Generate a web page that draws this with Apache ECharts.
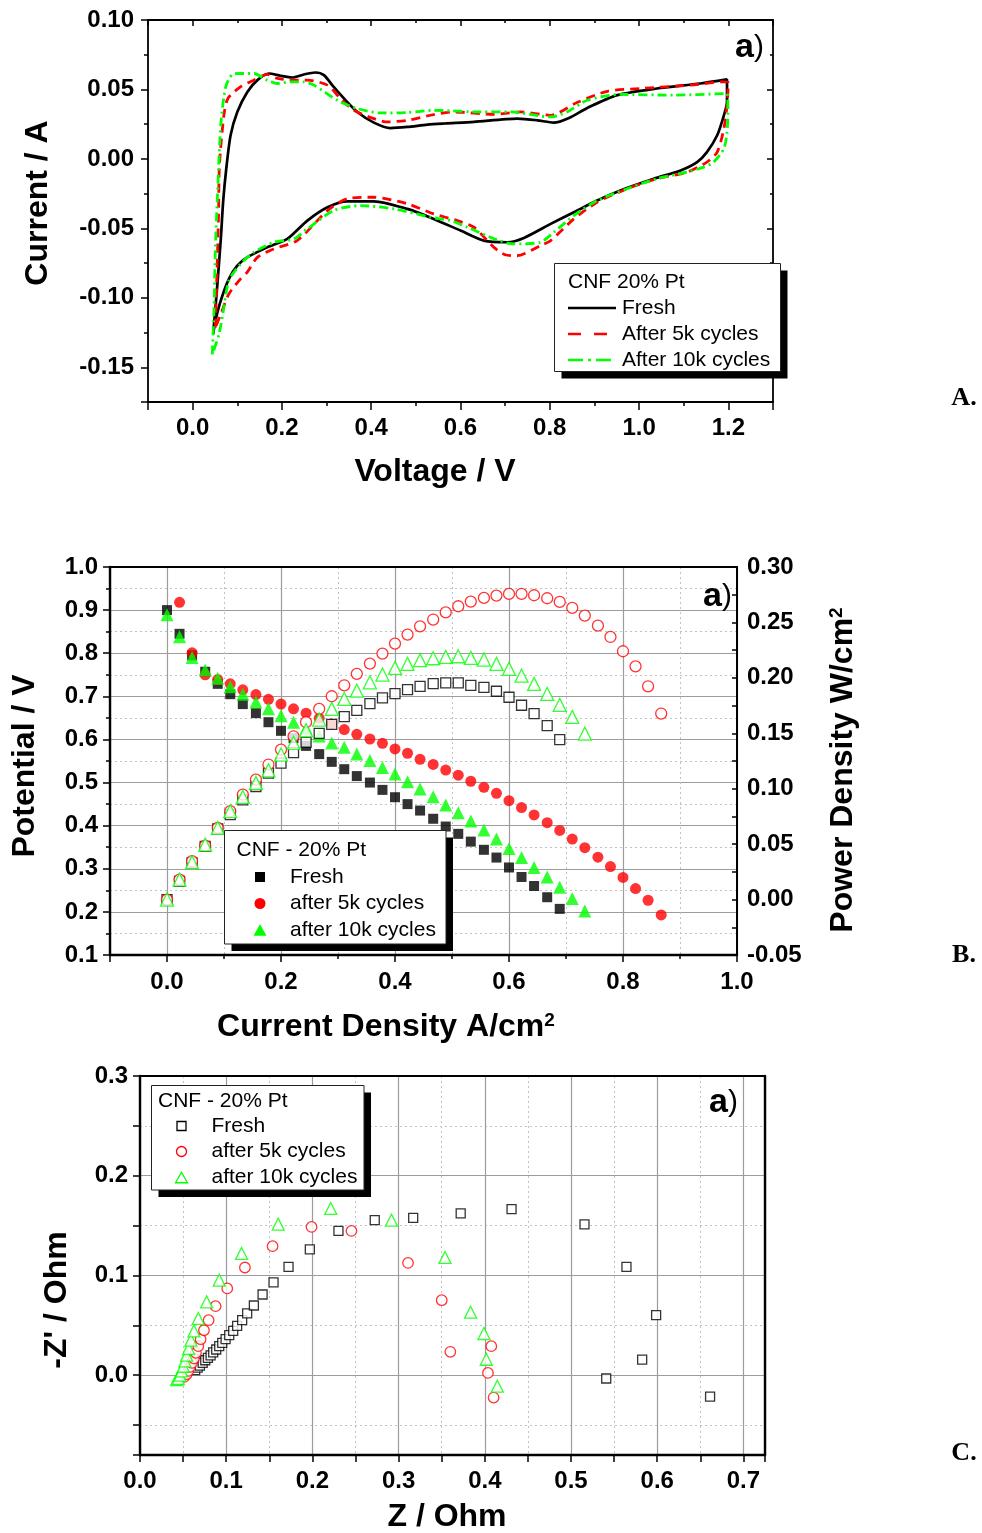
<!DOCTYPE html>
<html>
<head>
<meta charset="utf-8">
<title>CNF 20% Pt durability</title>
<script src="https://cdn.jsdelivr.net/npm/echarts@6/dist/echarts.min.js"></script>
<style>
  html, body { margin: 0; padding: 0; background: #fff; }
  #chart { width: 982px; height: 1533px; }
</style>
</head>
<body>
<div id="chart"></div>
<script>
// ---------- Panel A: cyclic voltammetry (voltage V, current A), anodic then cathodic sweep ----------
const cvFreshV = [0.046,0.055,0.063,0.0685,0.075,0.085,0.100,0.1225,0.145,0.171,0.197,0.223,0.249,0.275,0.294,0.316,0.339,0.369,0.406,0.443,0.481,0.526,0.565,0.630,0.727,0.772,0.809,0.843,0.884,0.951,1.040,1.137,1.197,
  1.197,1.190,1.175,1.152,1.130,1.093,1.033,0.958,0.906,0.854,0.802,0.742,0.705,0.652,0.600,0.540,0.481,0.406,0.346,0.302,0.257,0.212,0.167,0.122,0.100,0.081,0.063,0.051,0.046];
const cvFreshI = [-0.126,-0.092,-0.058,-0.030,-0.008,0.017,0.0338,0.0482,0.0567,0.0615,0.0598,0.0586,0.0608,0.0622,0.0603,0.0518,0.0435,0.0338,0.0261,0.0222,0.0230,0.0247,0.0255,0.0266,0.0290,0.0278,0.0261,0.0295,0.0367,0.0459,0.0507,0.0543,0.0572,
  0.0410,0.0314,0.0170,0.0049,-0.0023,-0.0083,-0.0143,-0.0227,-0.0300,-0.0384,-0.0468,-0.0569,-0.0600,-0.0588,-0.0516,-0.0432,-0.0360,-0.0305,-0.0305,-0.0348,-0.0444,-0.0576,-0.0637,-0.0709,-0.0769,-0.0865,-0.1020,-0.1166,-0.126];

const cv5kV = [0.051,0.054,0.058,0.060,0.070,0.079,0.107,0.137,0.167,0.190,0.227,0.257,0.302,0.331,0.361,0.406,0.436,0.481,0.540,0.585,0.675,0.734,0.802,0.861,0.929,1.003,1.115,1.190,1.200,
  1.197,1.190,1.175,1.152,1.108,1.040,0.973,0.906,0.854,0.802,0.779,0.727,0.700,0.675,0.630,0.593,0.540,0.481,0.406,0.346,0.302,0.234,0.182,0.145,0.122,0.107,0.081,0.063,0.051];
const cv5kI = [-0.1214,-0.0877,-0.040,-0.0047,0.0314,0.0435,0.0518,0.0567,0.0608,0.0579,0.0567,0.0567,0.0531,0.0435,0.035,0.029,0.0266,0.0278,0.0319,0.0338,0.0321,0.0338,0.0314,0.0406,0.0487,0.0507,0.0531,0.0555,0.0550,
  0.0386,0.0218,0.0049,-0.0023,-0.0095,-0.0143,-0.0215,-0.0312,-0.0432,-0.0588,-0.0625,-0.0697,-0.0690,-0.0637,-0.0492,-0.0444,-0.0396,-0.0323,-0.0276,-0.0287,-0.0372,-0.0588,-0.0648,-0.0709,-0.0817,-0.0865,-0.0973,-0.1118,-0.1214];

const cv10kV = [0.044,0.048,0.051,0.055,0.063,0.074,0.089,0.107,0.137,0.167,0.190,0.219,0.249,0.272,0.324,0.369,0.421,0.481,0.540,0.645,0.712,0.802,0.839,0.884,0.958,1.078,1.197,
  1.199,1.197,1.190,1.167,1.145,1.108,1.040,0.973,0.906,0.854,0.809,0.779,0.719,0.682,0.615,0.578,0.533,0.451,0.376,0.316,0.257,0.227,0.182,0.137,0.107,0.081,0.070,0.059,0.044];
const cv10kI = [-0.1407,-0.107,-0.0637,-0.0312,0.0242,0.0518,0.0608,0.0615,0.0615,0.0567,0.0543,0.0555,0.0555,0.0531,0.0422,0.0362,0.0331,0.0334,0.035,0.0338,0.0338,0.0302,0.0338,0.0422,0.0464,0.0459,0.0471,
  0.0338,0.0194,0.0074,-0.0023,-0.0059,-0.0095,-0.0143,-0.0215,-0.030,-0.0408,-0.0528,-0.060,-0.0612,-0.0583,-0.0492,-0.0444,-0.042,-0.036,-0.0336,-0.0372,-0.0504,-0.0576,-0.060,-0.0673,-0.0757,-0.0877,-0.107,-0.1262,-0.1407];

// ---------- Panel B: polarization (potential V) and power density (W/cm2) vs current density ----------
const currentDensity = [0.000,0.022,0.044,0.067,0.089,0.111,0.133,0.156,0.178,0.200,0.222,0.244,0.267,0.289,0.311,0.333,0.356,0.378,0.400,0.422,
  0.444,0.467,0.489,0.511,0.533,0.556,0.578,0.600,0.622,0.644,0.667,0.689,0.711,0.733,0.756,0.778,0.800,0.822,0.844,0.867];
const potFresh = [0.900,0.845,0.795,0.757,0.729,0.705,0.682,0.661,0.640,0.620,0.603,0.585,0.566,0.548,0.531,0.515,0.500,0.483,0.466,0.450,
  0.435,0.416,0.398,0.381,0.363,0.344,0.326,0.303,0.281,0.260,0.234,0.207];
const powFresh = [0.000,0.0165,0.0331,0.048,0.0638,0.0767,0.090,0.102,0.114,0.123,0.1326,0.1419,0.150,0.158,0.165,0.1707,0.1768,0.182,0.1858,0.1894,
  0.1924,0.1948,0.1955,0.1955,0.1933,0.1915,0.1879,0.1825,0.1753,0.1678,0.157,0.1443];
const pot5k = [null,0.918,0.801,0.750,0.739,0.729,0.715,0.704,0.693,0.682,0.671,0.661,0.649,0.636,0.623,0.612,0.601,0.591,0.578,0.568,
  0.554,0.542,0.529,0.517,0.503,0.489,0.475,0.458,0.442,0.425,0.407,0.389,0.369,0.349,0.327,0.305,0.280,0.254,0.227,0.193];
const pow5k = [0.000,0.018,0.0346,0.0487,0.0647,0.0797,0.0947,0.1082,0.1218,0.1353,0.1473,0.160,0.172,0.1834,0.1933,0.2036,0.2129,0.2219,0.2309,0.239,
  0.2465,0.2526,0.2591,0.2646,0.2688,0.2721,0.2742,0.2757,0.2757,0.2745,0.2718,0.2685,0.2631,0.2562,0.2471,0.2369,0.224,0.2104,0.1924,0.1678];
const pot10k = [0.889,0.838,0.790,0.761,0.742,0.722,0.705,0.687,0.671,0.655,0.640,0.626,0.608,0.592,0.582,0.566,0.551,0.535,0.520,0.502,
  0.485,0.467,0.448,0.430,0.411,0.390,0.369,0.347,0.326,0.303,0.281,0.257,0.231,0.202];
const pow10k = [0.000,0.018,0.0337,0.0496,0.0647,0.0797,0.0926,0.1053,0.1166,0.1308,0.1413,0.1527,0.1624,0.172,0.181,0.1885,0.196,0.203,0.209,0.2126,
  0.216,0.2177,0.2189,0.2195,0.218,0.2165,0.2126,0.2081,0.202,0.1946,0.1855,0.1756,0.1648,0.1497];

// ---------- Panel C: Nyquist plot (Z real, -Z'' imaginary, Ohm) ----------
const nyqFreshRe = [0.064,0.0669,0.0695,0.0727,0.0757,0.0788,0.0819,0.0849,0.0884,0.0919,0.0954,0.0993,0.1035,0.1081,0.1127,0.1185,0.1243,0.1321,0.1422,0.1549,
  0.1723,0.197,0.2302,0.2723,0.3169,0.372,0.431,0.5156,0.5643,0.5987,0.5825,0.5408,0.6613];
const nyqFreshIm = [0.005,0.0077,0.0097,0.0123,0.015,0.0174,0.0198,0.0228,0.0258,0.0291,0.0324,0.0361,0.0401,0.0444,0.0494,0.0552,0.0619,0.0699,0.0809,0.093,
  0.1086,0.1261,0.1447,0.1555,0.1578,0.1622,0.1665,0.1512,0.1086,0.0602,0.0157,-0.0033,-0.0214];
const nyq5kRe = [0.0513,0.0541,0.056,0.0579,0.0603,0.0626,0.0649,0.0676,0.0703,0.0742,0.0796,0.0877,0.1012,0.1217,0.1538,0.199,0.2453,0.3109,0.35,0.36,0.4075,0.4036,0.4102];
const nyq5kIm = [-0.0017,0.001,0.0043,0.0083,0.0123,0.0168,0.0224,0.0291,0.0361,0.0451,0.0552,0.0692,0.087,0.108,0.1294,0.1487,0.1447,0.1126,0.0752,0.0234,0.0291,0.0023,-0.0224];
const nyq10kRe = [0.0425,0.0444,0.0463,0.0483,0.0502,0.0521,0.0541,0.0564,0.0591,0.0626,0.0676,0.0773,0.0919,0.1178,0.1603,0.2213,0.2917,0.3538,0.3835,0.399,0.4017,0.4145];
const nyq10kIm = [-0.0043,-0.0033,0.0,0.0043,0.009,0.0143,0.0201,0.0268,0.0351,0.0444,0.0569,0.0735,0.0953,0.1221,0.1515,0.1672,0.1555,0.1181,0.0632,0.0418,0.016,-0.011];

// ---------- styling helpers ----------
const FONT = '"Liberation Sans", Arial, Helvetica, sans-serif';
const SERIF = '"Liberation Serif", "Times New Roman", serif';
const BLACK = '#000000', RED = '#ff0000', GREEN = '#00ff00';

const near = (v, s) => Math.abs(v / s - Math.round(v / s)) < 1e-6;
const fix = (v, d) => (Math.abs(v) < 1e-9 ? 0 : v).toFixed(d);
const zip = (xs, ys) => ys.map((y, i) => [xs[i], y]).filter(p => p[1] != null);

function axis(o) {
  return {
    type: 'value',
    gridIndex: o.grid,
    position: o.pos,
    min: o.min,
    max: o.max,
    interval: o.interval,
    minInterval: o.step,
    maxInterval: o.step,
    axisLine: { show: true, onZero: false, lineStyle: { color: BLACK, width: o.lw || 2 } },
    axisTick: { show: o.ticks !== false, inside: !!o.inside, length: o.tickLen || 7, lineStyle: { color: BLACK, width: 1.5 } },
    minorTick: { show: !!o.minor, splitNumber: 2, length: o.minorLen || 4, lineStyle: { color: BLACK, width: 1.5 } },
    axisLabel: o.fmt
      ? { show: true, formatter: o.fmt, margin: o.margin || 12, color: BLACK, fontFamily: FONT, fontWeight: 'bold', fontSize: 24 }
      : { show: false },
    splitLine: { show: !!o.lines, lineStyle: { color: '#9c9c9c', width: 1.2 } },
    minorSplitLine: { show: !!o.lines, lineStyle: { color: '#c2c2c2', width: 1, type: [2, 3] } }
  };
}

const fmtAx = v => (near(v, 0.2) && v > -0.05 && v < 1.25) ? fix(v, 1) : '';
const fmtAy = v => (near(v, 0.05) && v > -0.16) ? fix(v, 2) : '';
const fmtBx = v => (v > -0.05) ? fix(v, 1) : '';
const fmtBy = v => fix(v, 1);
const fmtBr = v => fix(v, 2);
const fmtCx = v => (near(v, 0.1) && v < 0.71) ? fix(v, 1) : '';
const fmtCy = v => near(v, 0.1) ? fix(v, 1) : '';

function cvLine(name, xs, ys, color, type, width) {
  return {
    name, type: 'line', xAxisIndex: 0, yAxisIndex: 0,
    data: zip(xs, ys), symbol: 'none', smooth: 0.25,
    lineStyle: { color, width, type }, silent: true, z: 3
  };
}
function dots(name, xi, yi, data, symbol, size, color, open) {
  return {
    name, type: 'scatter', xAxisIndex: xi, yAxisIndex: yi, data,
    symbol, symbolSize: size, silent: true, z: open ? 4 : 3,
    itemStyle: open
      ? { color: '#ffffff', borderColor: color, borderWidth: 1.3 }
      : { color, borderWidth: 0 }
  };
}

// ---------- text and legend graphics ----------
function txt(x, y, text, font, align, extra) {
  return Object.assign({
    type: 'text', x, y, z: 110, silent: true,
    style: { text, font, fill: BLACK, align: align || 'left', verticalAlign: 'middle', textAlign: align || 'left', textVerticalAlign: 'middle' }
  }, extra || {});
}
function richTitle(x, y, main, sup, rotation) {
  return {
    type: 'text', x, y, rotation: rotation || 0, z: 110, silent: true,
    style: {
      text: '{m|' + main + '}' + (sup ? '{s|' + sup + '}' : ''),
      align: 'center', verticalAlign: 'middle', textAlign: 'center', textVerticalAlign: 'middle', fill: BLACK,
      rich: {
        m: { fontSize: 32, fontWeight: 'bold', fontFamily: FONT, fill: BLACK, color: BLACK },
        s: { fontSize: 19, fontWeight: 'bold', fontFamily: FONT, fill: BLACK, color: BLACK, verticalAlign: 'top' }
      }
    }
  };
}
function panelTag(x, y) {
  return {
    type: 'text', x, y, z: 110, silent: true,
    style: {
      text: '{a|a}{p|)}', align: 'left', verticalAlign: 'middle', textAlign: 'left', textVerticalAlign: 'middle',
      rich: {
        a: { fontSize: 34, fontWeight: 'bold', fontFamily: FONT, fill: BLACK, color: BLACK },
        p: { fontSize: 30, fontWeight: 'normal', fontFamily: FONT, fill: BLACK, color: BLACK }
      }
    }
  };
}
function legendBox(x, y, w, h) {
  return [
    { type: 'rect', z: 100, silent: true, shape: { x: x + 7, y: y + 7, width: w, height: h }, style: { fill: BLACK } },
    { type: 'rect', z: 101, silent: true, shape: { x, y, width: w, height: h }, style: { fill: '#fff', stroke: '#222', lineWidth: 1 } }
  ];
}
const LFONT = '21px ' + FONT;
function seg(x1, x2, y, color, dash) {
  return { type: 'line', z: 105, silent: true, shape: { x1, y1: y, x2, y2: y }, style: { stroke: color, lineWidth: 2.6, lineDash: dash || null } };
}
function sq(cx, cy, s, color, open) {
  return { type: 'rect', z: 105, silent: true, shape: { x: cx - s / 2, y: cy - s / 2, width: s, height: s },
    style: open ? { fill: '#fff', stroke: color, lineWidth: 1.3 } : { fill: color } };
}
function circ(cx, cy, r, color, open) {
  return { type: 'circle', z: 105, silent: true, shape: { cx, cy, r },
    style: open ? { fill: '#fff', stroke: color, lineWidth: 1.3 } : { fill: color } };
}
function tri(cx, cy, w, h, color, open) {
  return { type: 'polygon', z: 105, silent: true, shape: { points: [[cx, cy - h / 2], [cx - w / 2, cy + h / 2], [cx + w / 2, cy + h / 2]] },
    style: open ? { fill: '#fff', stroke: color, lineWidth: 1.3 } : { fill: color } };
}

const graphics = [].concat(
  // panel A legend
  legendBox(554.5, 263.5, 226, 108),
  [
    txt(568, 282, 'CNF 20% Pt', LFONT),
    seg(568, 616, 308, BLACK), txt(622, 308, 'Fresh', LFONT),
    seg(568, 616, 334, RED, [13, 13]), txt(622, 334, 'After 5k cycles', LFONT),
    seg(568, 616, 360, GREEN, [15, 5, 3, 5]), txt(622, 360, 'After 10k cycles', LFONT)
  ],
  // panel B legend
  legendBox(224.5, 830.5, 221.5, 113.5),
  [
    txt(236.5, 850, 'CNF - 20% Pt', LFONT),
    sq(260, 877, 10, BLACK, false), txt(290, 877, 'Fresh', LFONT),
    circ(260, 903.5, 5.5, RED, false), txt(290, 903.5, 'after 5k cycles', LFONT),
    tri(260, 930, 13, 11.5, GREEN, false), txt(290, 930, 'after 10k cycles', LFONT)
  ],
  // panel C legend
  legendBox(151.5, 1085.5, 212.5, 104.5),
  [
    txt(158, 1101, 'CNF - 20% Pt', LFONT),
    sq(181.5, 1126, 9, BLACK, true), txt(211.5, 1126, 'Fresh', LFONT),
    circ(181.5, 1151.5, 5, RED, true), txt(211.5, 1151.5, 'after 5k cycles', LFONT),
    tri(181.5, 1177.5, 12, 10.5, GREEN, true), txt(211.5, 1177.5, 'after 10k cycles', LFONT)
  ],
  // axis titles
  [
    richTitle(38, 203, 'Current / A', null, Math.PI / 2),
    richTitle(435, 472, 'Voltage / V'),
    richTitle(25, 766, 'Potential / V', null, Math.PI / 2),
    richTitle(843, 770, 'Power Density W/cm', '2', Math.PI / 2),
    richTitle(386, 1027, 'Current Density A/cm', '2'),
    richTitle(57, 1300, "-Z' / Ohm", null, Math.PI / 2),
    richTitle(447, 1517, 'Z / Ohm')
  ],
  // panel tags and figure letters
  [
    panelTag(735, 48), panelTag(703, 597), panelTag(709, 1103),
    txt(964, 398, 'A.', 'bold 26px ' + SERIF, 'center'),
    txt(964, 955, 'B.', 'bold 26px ' + SERIF, 'center'),
    txt(964, 1453, 'C.', 'bold 26px ' + SERIF, 'center')
  ]
);

const option = {
  animation: false,
  backgroundColor: '#ffffff',
  grid: [
    { left: 148, top: 20, width: 625, height: 382, containLabel: false, outerBoundsMode: 'none' },
    { left: 110, top: 567, width: 627, height: 388, containLabel: false, outerBoundsMode: 'none' },
    { left: 140, top: 1076, width: 625, height: 379, containLabel: false, outerBoundsMode: 'none' }
  ],
  xAxis: [
    axis({ grid: 0, pos: 'bottom', min: -0.1, max: 1.3, step: 0.2, minor: true, tickLen: 8, fmt: fmtAx, margin: 14, lw: 1.8 }),
    axis({ grid: 0, pos: 'top', min: -0.1, max: 1.3, step: 0.2, minor: true, inside: true, tickLen: 6, minorLen: 3, lw: 1.8 }),
    axis({ grid: 1, pos: 'bottom', min: -0.1, max: 1.0, step: 0.2, minor: true, lines: true, fmt: fmtBx, margin: 15, lw: 2.4 }),
    axis({ grid: 1, pos: 'top', min: -0.1, max: 1.0, step: 0.2, ticks: false }),
    axis({ grid: 2, pos: 'bottom', min: 0, max: 0.725, interval: 0.1, minor: true, minorLen: 7, lines: true, fmt: fmtCx, margin: 14, lw: 2.4 }),
    axis({ grid: 2, pos: 'top', min: 0, max: 0.725, interval: 0.1, ticks: false })
  ],
  yAxis: [
    axis({ grid: 0, pos: 'left', min: -0.175, max: 0.1, step: 0.05, minor: true, fmt: fmtAy, margin: 14, lw: 1.8 }),
    axis({ grid: 0, pos: 'right', min: -0.175, max: 0.1, step: 0.05, minor: true, inside: true, tickLen: 6, minorLen: 3, lw: 1.8 }),
    axis({ grid: 1, pos: 'left', min: 0.1, max: 1.0, interval: 0.1, minor: true, lines: true, fmt: fmtBy, margin: 12, lw: 2.4 }),
    axis({ grid: 1, pos: 'right', min: -0.05, max: 0.3, interval: 0.05, minor: true, inside: true, tickLen: 5, minorLen: 5, fmt: fmtBr, margin: 10 }),
    axis({ grid: 2, pos: 'left', min: -0.08, max: 0.3, step: 0.1, minor: true, minorLen: 7, lines: true, fmt: fmtCy, margin: 12, lw: 2.4 }),
    axis({ grid: 2, pos: 'right', min: -0.08, max: 0.3, step: 0.1, ticks: false, lw: 2.4 })
  ],
  series: [
    cvLine('Fresh', cvFreshV, cvFreshI, BLACK, 'solid', 2.7),
    cvLine('After 5k cycles', cv5kV, cv5kI, RED, [9, 6], 2.8),
    cvLine('After 10k cycles', cv10kV, cv10kI, GREEN, [9, 4, 2, 4], 2.8),

    dots('Fresh potential', 2, 2, zip(currentDensity, potFresh), 'rect', 10, BLACK, false),
    dots('5k potential', 2, 2, zip(currentDensity, pot5k), 'circle', 11, RED, false),
    dots('10k potential', 2, 2, zip(currentDensity, pot10k), 'triangle', 13, GREEN, false),
    dots('Fresh power', 2, 3, zip(currentDensity, powFresh), 'rect', 10, BLACK, true),
    dots('5k power', 2, 3, zip(currentDensity, pow5k), 'circle', 11, RED, true),
    dots('10k power', 2, 3, zip(currentDensity, pow10k), 'triangle', 13, GREEN, true),

    dots('Fresh', 4, 4, zip(nyqFreshRe, nyqFreshIm), 'rect', 9, BLACK, true),
    dots('after 5k cycles', 4, 4, zip(nyq5kRe, nyq5kIm), 'circle', 10.5, RED, true),
    dots('after 10k cycles', 4, 4, zip(nyq10kRe, nyq10kIm), 'triangle', 12, GREEN, true)
  ],
  graphic: graphics
};

const chart = echarts.init(document.getElementById('chart'), null, { renderer: 'canvas' });
chart.setOption(option);
</script>
</body>
</html>
